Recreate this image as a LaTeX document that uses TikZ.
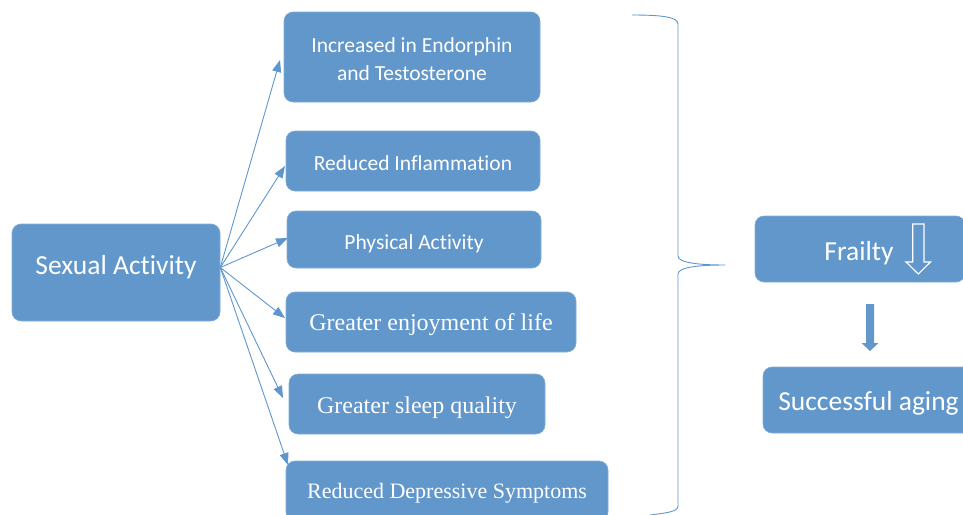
\documentclass[tikz,border=0pt]{standalone}
\usepackage{fontspec}
\setmainfont{Liberation Serif}
\newfontfamily\calib[Ligatures={NoCommon}]{Carlito}
\usetikzlibrary{arrows.meta}
\definecolor{boxblue}{RGB}{98,151,203}
\definecolor{lineblue}{RGB}{95,150,205}
\tikzset{
  bx/.style={rectangle, rounded corners=9pt, fill=boxblue, draw=boxblue!80!white, line width=0.6pt, inner sep=0pt},
  tx/.style={text=white, align=center, inner sep=0pt},
  sansA/.style={tx, font=\calib\fontsize{21.5}{28}\selectfont},
  sansB/.style={tx, font=\calib\fontsize{27.5}{32}\selectfont},
  serifA/.style={tx, font=\fontsize{24}{28}\selectfont},
  conn/.style={draw=lineblue, line width=0.9pt, -{Triangle[length=12pt,width=9pt]}},
}
\begin{document}
\begin{tikzpicture}[x=1pt,y=-1pt]
\useasboundingbox (0,0) rectangle (963,514);
% left box
\node[bx, minimum width=208pt, minimum height=97pt] (sa) at (116,272.5) {};
\node[sansB] (sat) at ([yshift=5pt]sa.center) {Sexual Activity};
% middle boxes
\node[bx, minimum width=256pt, minimum height=90pt] (b1) at (412,57) {};
\node[sansA] (b1t) at ([yshift=-2pt]b1.center) {Increased in Endorphin\\and Testosterone};
\node[bx, minimum width=254pt, minimum height=60pt] (b2) at (413,161) {};
\node[sansA] (b2t) at ([yshift=-2pt]b2.center) {Reduced Inflammation};
\node[bx, minimum width=254pt, minimum height=57pt] (b3) at (414,239.5) {};
\node[sansA] (b3t) at ([yshift=-4pt]b3.center) {Physical Activity};
\node[bx, minimum width=290pt, minimum height=60pt] (b4) at (431,322) {};
\node[serifA] (b4t) at ([yshift=-3pt]b4.center) {Greater enjoyment of life};
\node[bx, minimum width=256pt, minimum height=60pt] (b5) at (417,404) {};
\node[serifA] (b5t) at ([yshift=-4pt]b5.center) {Greater sleep quality};
\node[bx, minimum width=322pt, minimum height=60pt] (b6) at (447,491) {};
\node[tx, font=\fontsize{22}{26}\selectfont] (b6t) at ([yshift=-2pt]b6.center) {Reduced Depressive Symptoms};
% arrow tips
\coordinate (t1) at (280,60);
\coordinate (t2) at (285,166);
\coordinate (t3) at (288,238);
\coordinate (t4) at (285,318);
\coordinate (t5) at (283,398);
\coordinate (t6) at (288,465);
\foreach \t in {t1,t2,t3,t4,t5,t6}
  \draw[conn] ([yshift=5pt]sa.east) -- (\t);
% brace
\draw[lineblue, line width=0.9pt]
  (632,15) .. controls (662,15) and (678,17) .. (678,24)
  -- (678,256) .. controls (678,263) and (700,265) .. (725,265)
  .. controls (700,265) and (678,267) .. (678,274)
  -- (678,506) .. controls (678,512) and (665,513) .. (650,515);
% right boxes
\node[bx, minimum width=210pt, minimum height=66pt] (fb) at (860,249) {};
\node[sansB] (ft) at (859,253) {Frailty};
\draw[white, line width=1.1pt, line join=miter]
  (912.7,224) -- (924,224) -- (924,262) -- (930.5,262) -- (918.3,274) -- (906,262) -- (912.7,262) -- cycle;
\node[bx, minimum width=210pt, minimum height=66pt] (sag) at (868,400) {};
\node[sansB] (sagt) at (868.5,403) {Successful aging};
% solid down arrow
\fill[boxblue] (866,304) -- (874,304) -- (874,343) -- (878.5,343) -- (870,351) -- (861.5,343) -- (866,343) -- cycle;
\end{tikzpicture}
\end{document}
